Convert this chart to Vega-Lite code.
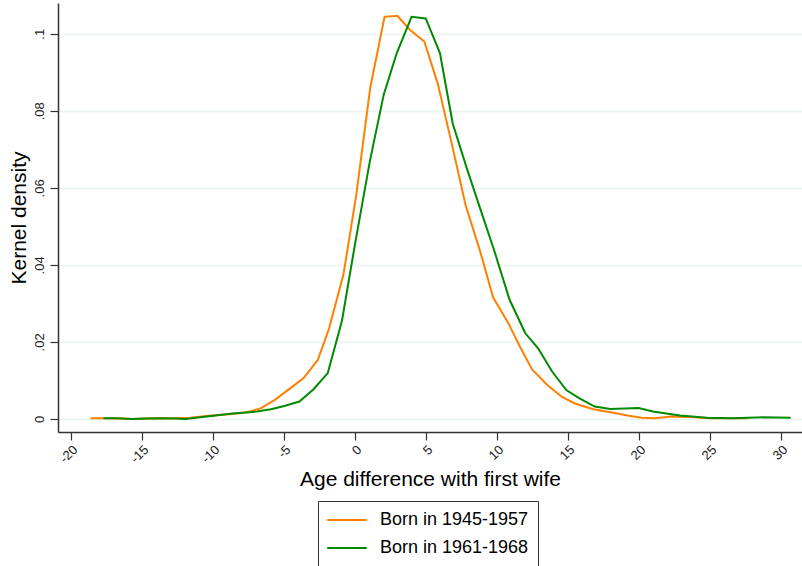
{
  "$schema": "https://vega.github.io/schema/vega-lite/v6.json",
  "width": 744,
  "height": 429,
  "autosize": {"type": "none"},
  "padding": {"left": 58, "top": 3, "right": 0, "bottom": 134},
  "background": "white",
  "config": {
    "view": {"stroke": null},
    "font": "Liberation Sans",
    "axis": {"domainColor": "#333333", "tickColor": "#333333", "labelColor": "#222222", "titleColor": "#000000", "titleFontWeight": "normal", "domainWidth": 1.5, "tickWidth": 1.2}
  },
  "data": {"values": [
    {"x": -18.6, "y": 0.0002, "g": "Born in 1945-1957"},
    {"x": -17.6, "y": 0.0002, "g": "Born in 1945-1957"},
    {"x": -16.6, "y": 0.0001, "g": "Born in 1945-1957"},
    {"x": -15.6, "y": 0.0000, "g": "Born in 1945-1957"},
    {"x": -14.6, "y": 0.0001, "g": "Born in 1945-1957"},
    {"x": -13.6, "y": 0.0002, "g": "Born in 1945-1957"},
    {"x": -12.6, "y": 0.0002, "g": "Born in 1945-1957"},
    {"x": -11.6, "y": 0.0003, "g": "Born in 1945-1957"},
    {"x": -10.6, "y": 0.0007, "g": "Born in 1945-1957"},
    {"x": -9.6, "y": 0.0010, "g": "Born in 1945-1957"},
    {"x": -8.6, "y": 0.0013, "g": "Born in 1945-1957"},
    {"x": -7.6, "y": 0.0017, "g": "Born in 1945-1957"},
    {"x": -6.6, "y": 0.0028, "g": "Born in 1945-1957"},
    {"x": -5.6, "y": 0.0050, "g": "Born in 1945-1957"},
    {"x": -4.6, "y": 0.0078, "g": "Born in 1945-1957"},
    {"x": -3.6, "y": 0.0106, "g": "Born in 1945-1957"},
    {"x": -2.6, "y": 0.0153, "g": "Born in 1945-1957"},
    {"x": -1.8, "y": 0.0236, "g": "Born in 1945-1957"},
    {"x": -0.8, "y": 0.0374, "g": "Born in 1945-1957"},
    {"x": 0.1, "y": 0.0580, "g": "Born in 1945-1957"},
    {"x": 1.1, "y": 0.0862, "g": "Born in 1945-1957"},
    {"x": 2.1, "y": 0.1044, "g": "Born in 1945-1957"},
    {"x": 3.0, "y": 0.1047, "g": "Born in 1945-1957"},
    {"x": 3.9, "y": 0.1010, "g": "Born in 1945-1957"},
    {"x": 4.9, "y": 0.0980, "g": "Born in 1945-1957"},
    {"x": 5.85, "y": 0.0870, "g": "Born in 1945-1957"},
    {"x": 6.8, "y": 0.0720, "g": "Born in 1945-1957"},
    {"x": 7.8, "y": 0.0556, "g": "Born in 1945-1957"},
    {"x": 8.8, "y": 0.0439, "g": "Born in 1945-1957"},
    {"x": 9.75, "y": 0.0315, "g": "Born in 1945-1957"},
    {"x": 10.8, "y": 0.0250, "g": "Born in 1945-1957"},
    {"x": 11.6, "y": 0.0190, "g": "Born in 1945-1957"},
    {"x": 12.5, "y": 0.0128, "g": "Born in 1945-1957"},
    {"x": 13.6, "y": 0.0087, "g": "Born in 1945-1957"},
    {"x": 14.6, "y": 0.0057, "g": "Born in 1945-1957"},
    {"x": 15.5, "y": 0.0040, "g": "Born in 1945-1957"},
    {"x": 16.8, "y": 0.0025, "g": "Born in 1945-1957"},
    {"x": 18.2, "y": 0.0016, "g": "Born in 1945-1957"},
    {"x": 19.2, "y": 0.0009, "g": "Born in 1945-1957"},
    {"x": 20.2, "y": 0.0003, "g": "Born in 1945-1957"},
    {"x": 21.1, "y": 0.0002, "g": "Born in 1945-1957"},
    {"x": 22.3, "y": 0.0006, "g": "Born in 1945-1957"},
    {"x": 23.6, "y": 0.0005, "g": "Born in 1945-1957"},
    {"x": 25.0, "y": 0.0002, "g": "Born in 1945-1957"},
    {"x": 26.3, "y": 0.0002, "g": "Born in 1945-1957"},
    {"x": 27.7, "y": 0.0002, "g": "Born in 1945-1957"},
    {"x": -17.7, "y": 0.0002, "g": "Born in 1961-1968"},
    {"x": -16.7, "y": 0.0002, "g": "Born in 1961-1968"},
    {"x": -15.7, "y": 0.0000, "g": "Born in 1961-1968"},
    {"x": -14.7, "y": 0.0001, "g": "Born in 1961-1968"},
    {"x": -13.7, "y": 0.0002, "g": "Born in 1961-1968"},
    {"x": -12.7, "y": 0.0001, "g": "Born in 1961-1968"},
    {"x": -11.9, "y": 0.0000, "g": "Born in 1961-1968"},
    {"x": -10.9, "y": 0.0004, "g": "Born in 1961-1968"},
    {"x": -9.8, "y": 0.0009, "g": "Born in 1961-1968"},
    {"x": -8.6, "y": 0.0014, "g": "Born in 1961-1968"},
    {"x": -6.9, "y": 0.0019, "g": "Born in 1961-1968"},
    {"x": -5.9, "y": 0.0025, "g": "Born in 1961-1968"},
    {"x": -4.9, "y": 0.0034, "g": "Born in 1961-1968"},
    {"x": -3.9, "y": 0.0045, "g": "Born in 1961-1968"},
    {"x": -2.9, "y": 0.0077, "g": "Born in 1961-1968"},
    {"x": -1.9, "y": 0.0119, "g": "Born in 1961-1968"},
    {"x": -0.9, "y": 0.0255, "g": "Born in 1961-1968"},
    {"x": 0.0, "y": 0.0450, "g": "Born in 1961-1968"},
    {"x": 1.06, "y": 0.0668, "g": "Born in 1961-1968"},
    {"x": 2.04, "y": 0.0842, "g": "Born in 1961-1968"},
    {"x": 2.96, "y": 0.0950, "g": "Born in 1961-1968"},
    {"x": 4.0, "y": 0.1044, "g": "Born in 1961-1968"},
    {"x": 5.0, "y": 0.1040, "g": "Born in 1961-1968"},
    {"x": 6.0, "y": 0.0950, "g": "Born in 1961-1968"},
    {"x": 6.9, "y": 0.0767, "g": "Born in 1961-1968"},
    {"x": 7.9, "y": 0.0650, "g": "Born in 1961-1968"},
    {"x": 8.8, "y": 0.0550, "g": "Born in 1961-1968"},
    {"x": 9.8, "y": 0.0440, "g": "Born in 1961-1968"},
    {"x": 10.9, "y": 0.0310, "g": "Born in 1961-1968"},
    {"x": 12.0, "y": 0.0223, "g": "Born in 1961-1968"},
    {"x": 12.9, "y": 0.0184, "g": "Born in 1961-1968"},
    {"x": 13.9, "y": 0.0123, "g": "Born in 1961-1968"},
    {"x": 14.9, "y": 0.0075, "g": "Born in 1961-1968"},
    {"x": 15.8, "y": 0.0054, "g": "Born in 1961-1968"},
    {"x": 16.9, "y": 0.0032, "g": "Born in 1961-1968"},
    {"x": 18.0, "y": 0.0026, "g": "Born in 1961-1968"},
    {"x": 20.0, "y": 0.0028, "g": "Born in 1961-1968"},
    {"x": 21.0, "y": 0.0019, "g": "Born in 1961-1968"},
    {"x": 22.9, "y": 0.0009, "g": "Born in 1961-1968"},
    {"x": 24.8, "y": 0.0003, "g": "Born in 1961-1968"},
    {"x": 26.6, "y": 0.0002, "g": "Born in 1961-1968"},
    {"x": 28.8, "y": 0.0004, "g": "Born in 1961-1968"},
    {"x": 30.7, "y": 0.0003, "g": "Born in 1961-1968"}
  ]},
  "mark": {"type": "line", "strokeWidth": 2, "clip": true},
  "encoding": {
    "x": {
      "field": "x", "type": "quantitative",
      "scale": {"domain": [-20.9, 31.5], "nice": false, "zero": false},
      "axis": {
        "title": "Age difference with first wife",
        "titleFontSize": 21, "titlePadding": 3,
        "values": [-20, -15, -10, -5, 0, 5, 10, 15, 20, 25, 30],
        "labelExpr": "datum.value < 0 ? '-' + abs(datum.value) : '' + datum.value",
        "labelAngle": -45, "labelFontSize": 13, "labelPadding": 3,
        "tickSize": 8, "grid": false
      }
    },
    "y": {
      "field": "y", "type": "quantitative",
      "scale": {"domain": [-0.0034, 0.108], "nice": false, "zero": false},
      "axis": {
        "title": "Kernel density",
        "titleFontSize": 21, "titlePadding": 4,
        "values": [0, 0.02, 0.04, 0.06, 0.08, 0.1],
        "labelExpr": "datum.value == 0 ? '0' : slice(format(datum.value, '.2~f'), 1)",
        "labelAngle": -90, "labelFontSize": 13, "labelPadding": 4,
        "tickSize": 8, "grid": true, "gridColor": "#EAF2F3", "gridWidth": 1.5
      }
    },
    "color": {
      "field": "g", "type": "nominal",
      "scale": {"domain": ["Born in 1945-1957", "Born in 1961-1968"], "range": ["#FF8000", "#008A00"]},
      "legend": {
        "title": null, "orient": "none", "legendX": 260, "legendY": 498,
        "direction": "vertical",
        "symbolType": "M-2.2,0H2.2", "symbolSize": 324, "symbolStrokeWidth": 2,
        "symbolOffset": 10,
        "labelFontSize": 18, "labelColor": "#000000", "labelOffset": 23,
        "rowPadding": 9, "padding": 9,
        "strokeColor": "#333333", "fillColor": "white"
      }
    }
  }
}
